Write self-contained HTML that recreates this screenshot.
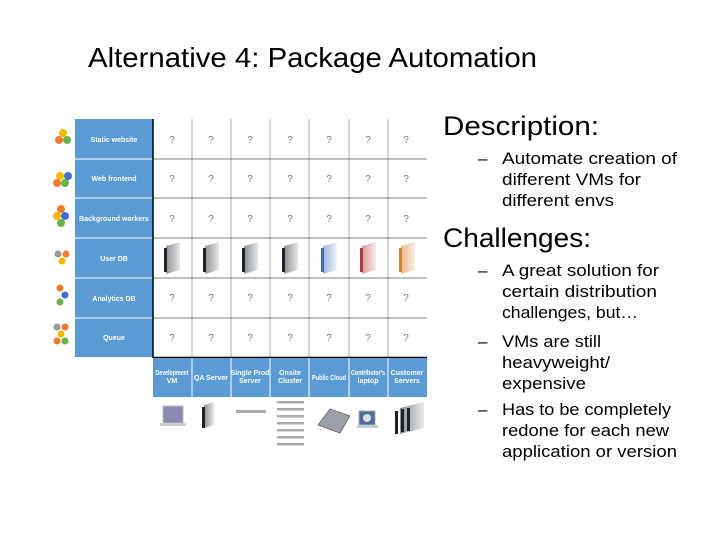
<!DOCTYPE html>
<html><head><meta charset="utf-8"><style>
html,body{margin:0;padding:0;background:#fff;}
svg{display:block;}
.t{font-family:"Liberation Sans",sans-serif;fill:#000;}
.l{font-family:"Liberation Sans",sans-serif;font-weight:bold;font-size:7px;fill:#fff;}
.q{font-family:"Liberation Sans",sans-serif;font-size:10px;fill:#777;}
</style></head><body>
<svg width="717" height="537" viewBox="0 0 717 537" xmlns="http://www.w3.org/2000/svg">
<defs>
<linearGradient id="gg" x1="0" x2="1"><stop offset="0" stop-color="#8a9096"/><stop offset="1" stop-color="#e6e9ec"/></linearGradient>
<linearGradient id="gb" x1="0" x2="1"><stop offset="0" stop-color="#9ab4d8"/><stop offset="1" stop-color="#eef3fa"/></linearGradient>
<linearGradient id="gr" x1="0" x2="1"><stop offset="0" stop-color="#d89a9a"/><stop offset="1" stop-color="#f8eaea"/></linearGradient>
<linearGradient id="go" x1="0" x2="1"><stop offset="0" stop-color="#e8b88a"/><stop offset="1" stop-color="#fbefe3"/></linearGradient>
</defs>
<text class="t" x="88" y="67" font-size="28" textLength="449" lengthAdjust="spacingAndGlyphs">Alternative 4: Package Automation</text>

<text class="t" x="443" y="135" font-size="27" textLength="156" lengthAdjust="spacingAndGlyphs">Description:</text>
<text class="t" x="443" y="247" font-size="27" textLength="148" lengthAdjust="spacingAndGlyphs">Challenges:</text>
<g class="t" font-size="17">
<text x="478" y="164">–</text><text x="502" y="164" textLength="175" lengthAdjust="spacingAndGlyphs">Automate creation of</text>
<text x="502" y="185" textLength="139" lengthAdjust="spacingAndGlyphs">different VMs for</text>
<text x="502" y="206" textLength="112" lengthAdjust="spacingAndGlyphs">different envs</text>
<text x="478" y="276">–</text><text x="502" y="276" textLength="157" lengthAdjust="spacingAndGlyphs">A great solution for</text>
<text x="502" y="297" textLength="155" lengthAdjust="spacingAndGlyphs">certain distribution</text>
<text x="502" y="318" textLength="136" lengthAdjust="spacingAndGlyphs">challenges, but…</text>
<text x="478" y="347">–</text><text x="502" y="347" textLength="99" lengthAdjust="spacingAndGlyphs">VMs are still</text>
<text x="502" y="368" textLength="108" lengthAdjust="spacingAndGlyphs">heavyweight/</text>
<text x="502" y="389" textLength="84" lengthAdjust="spacingAndGlyphs">expensive</text>
<text x="478" y="415">–</text><text x="502" y="415" textLength="169" lengthAdjust="spacingAndGlyphs">Has to be completely</text>
<text x="502" y="436" textLength="167" lengthAdjust="spacingAndGlyphs">redone for each new</text>
<text x="502" y="457" textLength="175" lengthAdjust="spacingAndGlyphs">application or version</text>
</g>

<rect x="75" y="119" width="78" height="238" fill="#5b9bd5"/>
<g stroke="#fff" stroke-width="1">
<line x1="75" y1="159" x2="153" y2="159"/><line x1="75" y1="198" x2="153" y2="198"/><line x1="75" y1="238" x2="153" y2="238"/><line x1="75" y1="278" x2="153" y2="278"/><line x1="75" y1="318" x2="153" y2="318"/>
</g>
<g text-anchor="middle" class="l">
<text x="114" y="142">Static website</text>
<text x="114" y="181">Web frontend</text>
<text x="114" y="221">Background workers</text>
<text x="114" y="261">User DB</text>
<text x="114" y="301">Analytics DB</text>
<text x="114" y="340">Queue</text>
</g>
<g stroke="#c8c8c8" stroke-width="1.5">
<line x1="192" y1="119" x2="192" y2="357"/><line x1="231" y1="119" x2="231" y2="357"/><line x1="270" y1="119" x2="270" y2="357"/><line x1="309" y1="119" x2="309" y2="357"/><line x1="349" y1="119" x2="349" y2="357"/><line x1="388" y1="119" x2="388" y2="357"/>
</g>
<g stroke="#555" stroke-width="0.8">
<line x1="153" y1="159" x2="427" y2="159"/><line x1="153" y1="198" x2="427" y2="198"/><line x1="153" y1="238" x2="427" y2="238"/><line x1="153" y1="278" x2="427" y2="278"/><line x1="153" y1="318" x2="427" y2="318"/>
</g>
<line x1="153" y1="119" x2="153" y2="358" stroke="#000" stroke-width="1.5"/>
<line x1="153" y1="357.5" x2="427" y2="357.5" stroke="#000" stroke-width="1.5"/>
<g class="q" text-anchor="middle">
<text x="172" y="143">?</text><text x="211" y="143">?</text><text x="250" y="143">?</text><text x="290" y="143">?</text><text x="329" y="143">?</text><text x="368" y="143">?</text><text x="406" y="143">?</text>
<text x="172" y="182">?</text><text x="211" y="182">?</text><text x="250" y="182">?</text><text x="290" y="182">?</text><text x="329" y="182">?</text><text x="368" y="182">?</text><text x="406" y="182">?</text>
<text x="172" y="222">?</text><text x="211" y="222">?</text><text x="250" y="222">?</text><text x="290" y="222">?</text><text x="329" y="222">?</text><text x="368" y="222">?</text><text x="406" y="222">?</text>
<text x="172" y="301">?</text><text x="211" y="301">?</text><text x="250" y="301">?</text><text x="290" y="301">?</text><text x="329" y="301">?</text><text x="368" y="301">?</text><text x="406" y="301">?</text>
<text x="172" y="341">?</text><text x="211" y="341">?</text><text x="250" y="341">?</text><text x="290" y="341">?</text><text x="329" y="341">?</text><text x="368" y="341">?</text><text x="406" y="341">?</text>
</g>
<g>
<polygon points="166,246 180,242 180,270 166,274" fill="url(#gg)"/><rect x="164" y="248" width="3" height="24" fill="#222"/>
<polygon points="205,246 219,242 219,270 205,274" fill="url(#gg)"/><rect x="203" y="248" width="3" height="24" fill="#222"/>
<polygon points="244,246 258,242 258,270 244,274" fill="url(#gg)"/><rect x="242" y="248" width="3" height="24" fill="#222"/>
<polygon points="284,246 298,242 298,270 284,274" fill="url(#gg)"/><rect x="282" y="248" width="3" height="24" fill="#222"/>
<polygon points="323,246 337,242 337,270 323,274" fill="url(#gb)"/><rect x="321" y="248" width="3" height="24" fill="#3c6db0"/>
<polygon points="362,246 376,242 376,270 362,274" fill="url(#gr)"/><rect x="360" y="248" width="3" height="24" fill="#b03c3c"/>
<polygon points="401,246 415,242 415,270 401,274" fill="url(#go)"/><rect x="399" y="248" width="3" height="24" fill="#d8822e"/>
</g>
<g>
<circle cx="63" cy="133" r="4" fill="#f5b800"/><circle cx="59" cy="140" r="4" fill="#ef7b2c"/><circle cx="67" cy="140" r="4" fill="#6ab04c"/>
<circle cx="60" cy="176" r="4" fill="#f5b800"/><circle cx="68" cy="176" r="4" fill="#3f6fd0"/><circle cx="57" cy="183" r="4" fill="#ef7b2c"/><circle cx="65" cy="183" r="4" fill="#6ab04c"/>
<circle cx="61" cy="209" r="4" fill="#ef7b2c"/><circle cx="57" cy="216" r="4" fill="#f5b800"/><circle cx="65" cy="216" r="4" fill="#3f6fd0"/><circle cx="61" cy="223" r="4" fill="#6ab04c"/>
<circle cx="58" cy="254" r="3.5" fill="#999"/><circle cx="66" cy="254" r="3.5" fill="#ef7b2c"/><circle cx="62" cy="261" r="3.5" fill="#f5b800"/>
<circle cx="60" cy="288" r="3.5" fill="#ef7b2c"/><circle cx="65" cy="295" r="3.5" fill="#3f6fd0"/><circle cx="60" cy="302" r="3.5" fill="#6ab04c"/>
<circle cx="57" cy="327" r="3.5" fill="#999"/><circle cx="65" cy="327" r="3.5" fill="#ef7b2c"/><circle cx="61" cy="334" r="3.5" fill="#f5b800"/><circle cx="57" cy="341" r="3.5" fill="#ef7b2c"/><circle cx="65" cy="341" r="3.5" fill="#6ab04c"/>
</g>
<rect x="153" y="358" width="274" height="39" fill="#5b9bd5"/>
<g stroke="#fff" stroke-width="1">
<line x1="192" y1="358" x2="192" y2="397"/><line x1="231" y1="358" x2="231" y2="397"/><line x1="270" y1="358" x2="270" y2="397"/><line x1="309" y1="358" x2="309" y2="397"/><line x1="349" y1="358" x2="349" y2="397"/><line x1="388" y1="358" x2="388" y2="397"/>
</g>
<g class="l" font-size="5.5" text-anchor="middle">
<text x="172" y="375" textLength="33" lengthAdjust="spacingAndGlyphs">Development</text><text x="172" y="383">VM</text>
<text x="211" y="380">QA Server</text>
<text x="250" y="375">Single Prod</text><text x="250" y="383">Server</text>
<text x="290" y="375">Onsite</text><text x="290" y="383">Cluster</text>
<text x="329" y="380" textLength="34" lengthAdjust="spacingAndGlyphs">Public Cloud</text>
<text x="368" y="375" textLength="34" lengthAdjust="spacingAndGlyphs">Contributor's</text><text x="368" y="383">laptop</text>
<text x="407" y="375">Customer</text><text x="407" y="383">Servers</text>
</g>
<rect x="163" y="406" width="20" height="17" fill="#8a8ab0" stroke="#bbb"/><rect x="160" y="423" width="26" height="3" fill="#ccc"/>
<polygon points="204,405 214,402 214,425 204,428" fill="url(#gg)"/><rect x="202" y="407" width="3" height="21" fill="#222"/>
<rect x="236" y="410" width="30" height="3" fill="#aaa"/>
<g fill="#aaa"><rect x="277" y="401" width="27" height="2.5"/><rect x="277" y="408" width="27" height="2.5"/><rect x="277" y="415" width="27" height="2.5"/><rect x="277" y="422" width="27" height="2.5"/><rect x="277" y="429" width="27" height="2.5"/><rect x="277" y="436" width="27" height="2.5"/><rect x="277" y="443" width="27" height="2.5"/></g>
<polygon points="318,425 330,409 350,416 340,433" fill="#9aa0a8" stroke="#666" stroke-width="0.8"/>
<rect x="359" y="411" width="16" height="14" fill="#4a6d9a" stroke="#aaa"/><circle cx="367" cy="418" r="4" fill="#ddd"/><rect x="357" y="425" width="21" height="3" fill="#ccc"/>
<polygon points="400,408 424,402 424,428 400,434" fill="url(#gg)"/>
<g fill="#222"><rect x="395" y="411" width="3" height="23"/><rect x="401" y="409" width="3" height="23"/><rect x="407" y="408" width="3" height="23"/></g>
</svg>
</body></html>
